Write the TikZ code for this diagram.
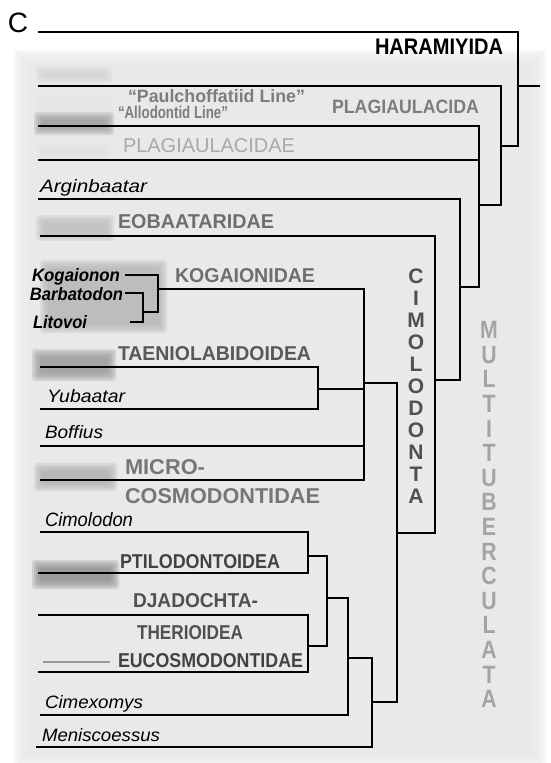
\documentclass[tikz,border=0pt]{standalone}
\usepackage{fontspec}
\usepackage{graphicx}
\setmainfont{Liberation Sans}
\definecolor{panel}{HTML}{E8E8E8}
\definecolor{gA}{HTML}{7D7D7D}
\definecolor{gB}{HTML}{A9A9A9}
\definecolor{gC}{HTML}{6E6E6E}
\definecolor{gD}{HTML}{585858}
\definecolor{gE}{HTML}{767676}
\definecolor{gF}{HTML}{424242}
\definecolor{gG}{HTML}{505050}
\definecolor{gM}{HTML}{A4A4A4}
\newcommand{\lbl}[3]{\resizebox{#1pt}{#2pt}{#3}}
\newcommand{\blurbar}[5]{%
  \foreach \d in {-4,-2,0,2,4}{%
    \fill[#5, opacity=0.25, rounded corners=3pt] ({#1+\d},{#2+\d}) rectangle ({#3-\d},{#4-\d});}}
\begin{document}
\begin{tikzpicture}[x=1pt,y=-1pt,
  br/.style={line width=2.9pt, line join=miter},
  lab/.style={anchor=base west, inner sep=0pt, outer sep=0pt},
  vlet/.style={inner sep=0pt, outer sep=0pt}]
\useasboundingbox (0,0) rectangle (550,763);
\fill[white] (0,0) rectangle (550,763);
% soft grey panel
\foreach \d in {0,3,6,9,12,15}{%
  \fill[panel, opacity=0.33] ({14+\d},{50+\d}) rectangle ({546-\d},{768-\d});}
% blurred specimen bars
\blurbar{40}{70}{108}{79}{gray!35}
\blurbar{40}{98}{108}{108}{gray!20}
\blurbar{38}{116}{110}{131}{gray!85}
\blurbar{40}{147}{108}{156}{gray!22}
\blurbar{40}{219}{110}{237}{gray!55}
\blurbar{44}{264}{163}{329}{gray!60}
\blurbar{36}{353}{112}{377}{gray!85}
\blurbar{38}{467}{113}{487}{gray!65}
\blurbar{36}{564}{115}{585}{gray!95}
\blurbar{40}{651}{110}{679}{gray!15}
\fill[gray!80] (43,661) rectangle (110,663);

% ---- tip coordinates
\coordinate (tHar) at (38,32);
\coordinate (tPau) at (38,86);
\coordinate (tAll) at (38,126);
\coordinate (tPla) at (38,160);
\coordinate (tArg) at (38,199);
\coordinate (tEob) at (40,236);
\coordinate (tKog) at (158,289);
\coordinate (tTae) at (40,367);
\coordinate (tYub) at (40,409);
\coordinate (tBof) at (40,446);
\coordinate (tMic) at (40,480);
\coordinate (tCmd) at (40,532);
\coordinate (tPti) at (38,573);
\coordinate (tDja) at (38,615);
\coordinate (tEuc) at (38,672);
\coordinate (tCmx) at (40,715);
\coordinate (tMen) at (36,747);
\coordinate (tKgn) at (125,275);
\coordinate (tBar) at (125,293);
\coordinate (tLit) at (130,322);
% ---- internal nodes
\coordinate (root) at (540,86);
\coordinate (nA) at (518,86);
\coordinate (nB) at (501,146);
\coordinate (nC) at (479,205);
\coordinate (nD) at (460,287);
\coordinate (nE) at (435,380);
\coordinate (nF) at (397,533);
\coordinate (nG) at (364,383);
\coordinate (nI) at (318,389);
\coordinate (nH) at (372,702);
\coordinate (nJ) at (348,658);
\coordinate (nK) at (327,598);
\coordinate (nL) at (308,556);
\coordinate (nM) at (308,646);
\coordinate (nKo) at (158,289);
\coordinate (nN) at (143,312);

% ---- branches
\draw[br] (nA) -- (root);
\draw[br] (tHar) -| (nA);
\draw[br] (nB) -| (nA);
\draw[br] (tPau) -| (nB);
\draw[br] (nC) -| (nB);
\draw[br] (tAll) -| (nC);
\draw[br] (tPla) -| (nC);
\draw[br] (nD) -| (nC);
\draw[br] (tArg) -| (nD);
\draw[br] (nE) -| (nD);
\draw[br] (tEob) -| (nE);
\draw[br] (nF) -| (nE);
\draw[br] (nG) -| (nF);
\draw[br] (nH) -| (nF);
\draw[br] (tKog) -| (nG);
\draw[br] (nI) -| (nG);
\draw[br] (tBof) -| (nG);
\draw[br] (tMic) -| (nG);
\draw[br] (tTae) -| (nI);
\draw[br] (tYub) -| (nI);
\draw[br] (nJ) -| (nH);
\draw[br] (tMen) -| (nH);
\draw[br] (nK) -| (nJ);
\draw[br] (tCmx) -| (nJ);
\draw[br] (nL) -| (nK);
\draw[br] (nM) -| (nK);
\draw[br] (tCmd) -| (nL);
\draw[br] (tPti) -| (nL);
\draw[br] (tDja) -| (nM);
\draw[br] (tEuc) -| (nM);
\draw[br] (tKgn) -| (nKo);
\draw[br] (nN) -| (nKo);
\draw[br] (tBar) -| (nN);
\draw[br] (tLit) -| (nN);

% ---- labels
\node[inner sep=0pt] (panelC) at (18,23) {\fontsize{28}{28}\selectfont C};
\node[lab] (haram) at (375,54) {\lbl{128}{15.5}{\bfseries HARAMIYIDA}};
\node[lab, text=gA] (paul) at (128,102) {\lbl{177}{13}{\bfseries “Paulchoffatiid Line”}};
\node[lab, text=gA] (allo) at (118,118) {\lbl{110}{12.5}{\bfseries “Allodontid Line”}};
\node[lab, text=gA] (plagA) at (332,113) {\lbl{147}{13.5}{\bfseries PLAGIAULACIDA}};
\node[lab, text=gB] (plagE) at (123,152) {\lbl{172}{14}{PLAGIAULACIDAE}};
\node[lab] (argi) at (40,192) {\lbl{107}{13}{\itshape Arginbaatar}};
\node[lab, text=gC] (eoba) at (118,228) {\lbl{156}{14}{\bfseries EOBAATARIDAE}};
\node[lab, text=gC] (koga) at (175,282) {\lbl{140}{14}{\bfseries KOGAIONIDAE}};
\node[lab] (kogn) at (32,281) {\lbl{88}{13}{\bfseries\itshape Kogaionon}};
\node[lab] (barb) at (30,300) {\lbl{93}{13}{\bfseries\itshape Barbatodon}};
\node[lab] (lito) at (33,328) {\lbl{54}{13}{\bfseries\itshape Litovoi}};
\node[lab, text=gD] (taen) at (118,360) {\lbl{193}{14}{\bfseries TAENIOLABIDOIDEA}};
\node[lab] (yuba) at (47,402) {\lbl{78}{13}{\itshape Yubaatar}};
\node[lab] (boff) at (45,438) {\lbl{58}{13}{\itshape Boffius}};
\node[lab, text=gE] (micr) at (125,474) {\lbl{80}{15}{\bfseries MICRO-}};
\node[lab, text=gE] (cosm) at (125,503) {\lbl{195}{15}{\bfseries COSMODONTIDAE}};
\node[lab] (cimo) at (45,526) {\lbl{88}{14}{\itshape Cimolodon}};
\node[lab, text=gF] (ptil) at (120,568) {\lbl{160}{14}{\bfseries PTILODONTOIDEA}};
\node[lab, text=gG] (djad) at (133,607) {\lbl{125}{14}{\bfseries DJADOCHTA-}};
\node[lab, text=gG] (ther) at (137,639) {\lbl{106}{14}{\bfseries THERIOIDEA}};
\node[lab, text=gF] (eucs) at (118,667) {\lbl{185}{14}{\bfseries EUCOSMODONTIDAE}};
\node[lab] (cimx) at (45,708) {\lbl{98}{13}{\itshape Cimexomys}};
\node[lab] (meni) at (42,741) {\lbl{118}{13}{\itshape Meniscoessus}};
% vertical clade names
\foreach \l [count=\i] in {C,I,M,O,L,O,D,O,N,T,A}
  \node[vlet, text=gG] (cim\i) at (416,{276+22*(\i-1)}) {\fontsize{21}{21}\selectfont\bfseries \l};
\foreach \l [count=\i] in {M,U,L,T,I,T,U,B,E,R,C,U,L,A,T,A}
  \node[vlet, text=gM] (mul\i) at (489,{330+24.6*(\i-1)}) {\scalebox{0.85}[1]{\fontsize{25}{25}\selectfont\bfseries \l}};
\end{tikzpicture}
\end{document}
